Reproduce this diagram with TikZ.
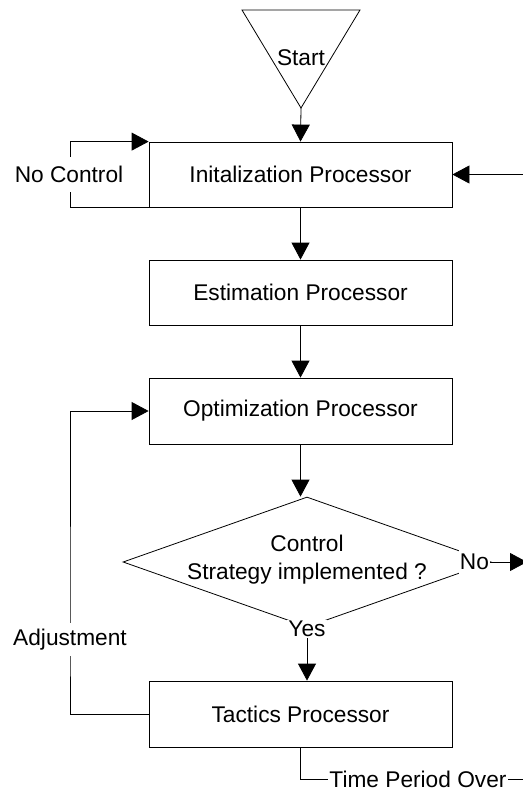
\documentclass[tikz,border=0pt]{standalone}
\usepackage{fontspec}
\setmainfont{Liberation Sans}
\usetikzlibrary{arrows.meta,shapes.geometric,backgrounds}
\begin{document}
\begin{tikzpicture}[x=1pt,y=-1pt,
  every node/.style={font=\fontsize{22.7pt}{28pt}\selectfont},
  proc/.style={draw, line width=0.8pt, minimum width=303pt, minimum height=65pt, inner sep=0pt},
  lbl/.style={fill=white, inner sep=1pt},
  conn/.style={line width=0.8pt},
  arr/.style={conn, -{Triangle[length=17pt,width=18pt]}},
]
\useasboundingbox (0,0) rectangle (522,792);

% start triangle
\draw[conn] (242,10) -- (360,10) -- (301,108) -- cycle;
\coordinate (startapex) at (301,108);
\node (start) at (301,58) {Start};

% processes
\node[proc, minimum height=65pt] (init) at (300.5,174.5) {Initalization Processor};
\node[proc, minimum height=65pt] (est) at (300.5,292.5) {Estimation Processor};
\node[proc, minimum height=66pt] (opt) at (300.5,411) {Optimization Processor};
\node[diamond, draw, conn, minimum width=368pt, minimum height=130pt, inner sep=0pt] (dec) at (307,562) {};
\node[align=center, inner sep=0pt] (dectext) at (307,560) {Control\\Strategy implemented ?};
\node[lbl, minimum height=24pt] (no) at (474.5,562) {No};
\node[lbl] (yes) at (307,629) {Yes};
\node[proc, minimum height=66pt] (tact) at (300.5,714) {Tactics Processor};

% labels on loops
\node[lbl, inner ysep=6pt] (adj) at (70,639.5) {Adjustment};
\node[lbl, minimum height=35pt] (nc) at (69,174.5) {No Control};
\node[lbl] (tpo) at (418,779.5) {Time Period Over};

\coordinate (ncl) at (70,174.5);
\coordinate (adjl) at (70,639.5);
\coordinate (rin) at (524,174.5);
\coordinate (noout) at (527,562);
\coordinate (tpend) at (524,779.5);

\begin{pgfonlayer}{background}
\draw[arr] (startapex) -- (init.north);
\draw[arr] (init.south) -- (est.north);
\draw[arr] (est.south) -- (opt.north);
\draw[arr] (opt.south) -- (opt.south |- dec.north);
\draw[arr] (yes.south) -- (yes.south |- tact.north);
\draw[arr] (init.south west) -| (ncl) |- (init.north west);
\draw[arr] (tact.west) -| (adjl) |- (opt.west);
\draw[arr] (rin) -- (init.east);
\draw[arr] (no.east) -- (noout);
\draw[conn] (tact.south) |- (tpo.west);
\draw[conn] (tpo.east) -- (tpend);
\end{pgfonlayer}
\end{tikzpicture}
\end{document}
